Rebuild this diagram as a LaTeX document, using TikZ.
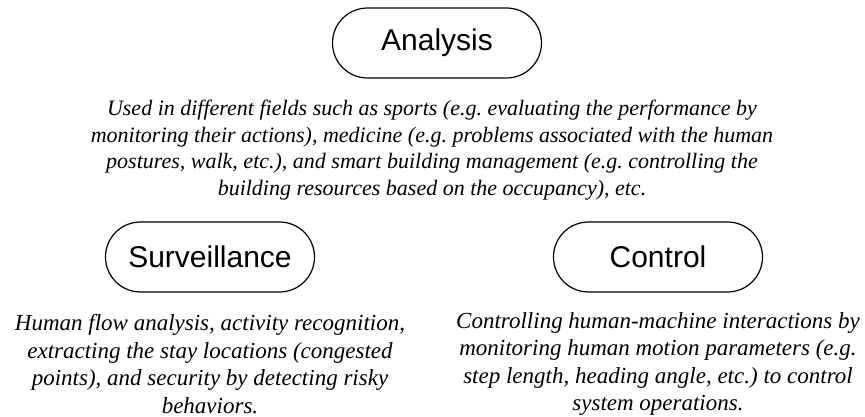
\documentclass[tikz,border=0pt]{standalone}
\usepackage{fontspec}
\setmainfont{Liberation Serif}
\newfontfamily\headfont{Liberation Sans}
\usetikzlibrary{positioning}
\frenchspacing

\begin{document}
\begin{tikzpicture}[x=1pt,y=1pt,node distance=106pt,
		app node/.style={rectangle,draw,line width=1.2pt,rounded corners=35pt,minimum width=209pt,minimum height=70pt,font=\headfont\fontsize{30}{36}\selectfont},
		note text/.style={align=center,inner sep=0pt,font=\itshape\fontsize{23}{27.6}\selectfont}]
		\useasboundingbox (0,0) rectangle (865,-417);
		
		\node[app node] (ana) at (437,-43) {Analysis};
		\node[app node] (sur) at (210,-257) {Surveillance};
		\node[app node] (con) at (658,-257) {Control};
		
		\node[note text, font=\itshape\fontsize{22}{26.5}\selectfont, xshift=-5pt, node distance=107pt] (anatxt) [below of=ana] {Used in different fields such as sports (e.g. evaluating the performance by\\ monitoring their actions), medicine (e.g. problems associated with the human\\ postures, walk, etc.), and smart building management (e.g. controlling the\\ building resources based on the occupancy), etc.};
		\node[note text, node distance=107pt] (surtxt) [below of=sur] {Human flow analysis, activity recognition,\\ extracting the stay locations (congested\\ points), and security by detecting risky\\ behaviors.};
		\node[note text, node distance=107pt] (contxt) [below of=con] {Controlling human-machine interactions by\\ monitoring human motion parameters (e.g.\\ step length, heading angle, etc.) to control\\ system operations.};
		\end{tikzpicture}
\end{document}
